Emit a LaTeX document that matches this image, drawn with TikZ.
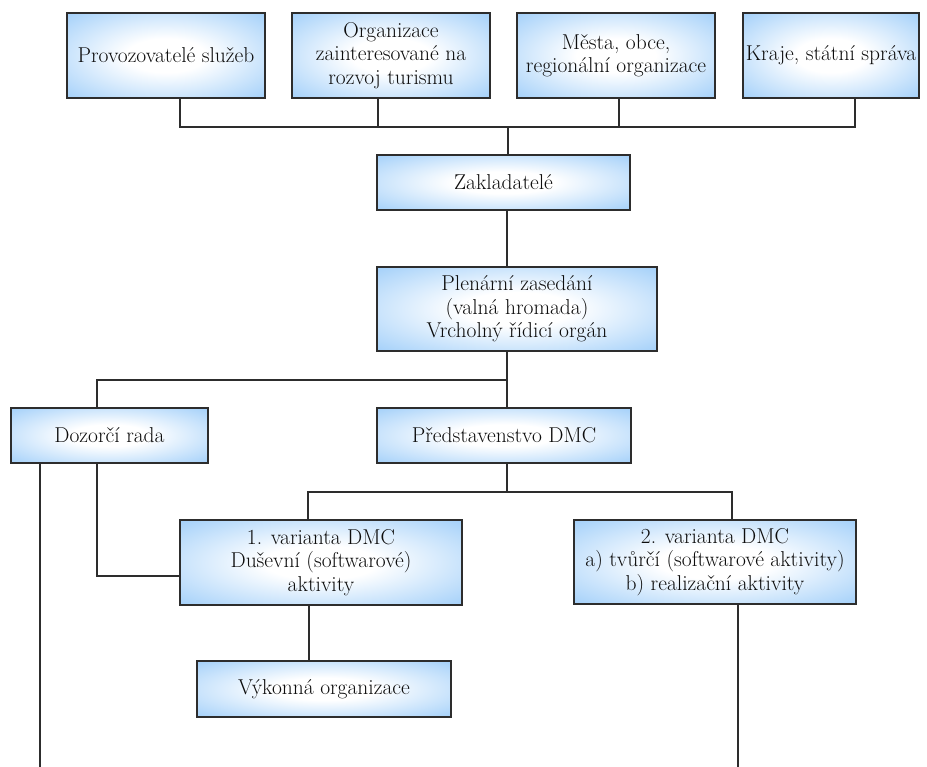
\documentclass[tikz,border=0pt]{standalone}
\usepackage{fontspec}
\definecolor{boxblue}{RGB}{140,196,248}
\definecolor{linegray}{RGB}{45,45,45}
\pgfdeclareradialshading{boxglow}{\pgfpoint{0bp}{0bp}}{%
  color(0bp)=(white); color(10bp)=(white); color(42bp)=(boxblue); color(72bp)=(boxblue)}
\begin{document}
\begin{tikzpicture}[x=1pt,y=-1pt,
  box/.style={rectangle, draw=linegray, line width=1.4pt, inner sep=0pt, outer sep=0pt,
    shading=boxglow, align=center, font=\fontsize{21.5}{23.5}\selectfont, text=black!95},
  link/.style={draw=linegray, line width=1.4pt}]
\useasboundingbox (0,0) rectangle (927,767);

% founders' groups
\node[box, minimum width=198, minimum height=85] (prov)  at (166,55.5) {Provozovatelé služeb};
\node[box, minimum width=198, minimum height=85] (org)   at (391,55.5) {Organizace\\zainteresované na\\rozvoj turismu};
\node[box, minimum width=198, minimum height=85] (mesta) at (616,55.5) {Města, obce,\\regionální organizace};
\node[box, minimum width=176, minimum height=85] (kraje) at (831,55.5) {Kraje, státní správa};

% governing bodies
\node[box, minimum width=253, minimum height=55] (zakl)  at (503.5,182.5) {Zakladatelé};
\node[box, minimum width=280, minimum height=84] (plen)  at (517,309) {Plenární zasedání\\(valná hromada)\\Vrcholný řídicí orgán};
\node[box, minimum width=197, minimum height=55] (dozor) at (109.5,435.5) {Dozorčí rada};
\node[box, minimum width=254, minimum height=55] (pred)  at (504,435.5) {Představenstvo DMC};

% variants and executive
\node[box, minimum width=282, minimum height=85] (var1) at (321,562.5) {1. varianta DMC\\Duševní (softwarové)\\aktivity};
\node[box, minimum width=282, minimum height=84] (var2) at (715,562) {2. varianta DMC\\a) tvůrčí (softwarové aktivity)\\b) realizační aktivity};
\node[box, minimum width=254, minimum height=56] (vyk)  at (324,689) {Výkonná organizace};

% junction points
\coordinate (t0) at (508,127);
\coordinate (t1) at (180,127);
\coordinate (t2) at (378,127);
\coordinate (t3) at (619,127);
\coordinate (t4) at (855,127);
\coordinate (m0) at (507,380);
\coordinate (m1) at (97,380);
\coordinate (v0) at (507,492);
\coordinate (v1) at (308,492);
\coordinate (v2) at (732,492);
\coordinate (d1) at (97,576);
\coordinate (d2) at (40,767);
\coordinate (e1) at (309,640);
\coordinate (e2) at (738,767);

% top bus
\draw[link] (t1 |- prov.south) -- (t1) -- (t4) -- (t4 |- kraje.south);
\draw[link] (t2 |- org.south) -- (t2);
\draw[link] (t3 |- mesta.south) -- (t3);
\draw[link] (t0) -- (t0 |- zakl.north);
\draw[link] (m0 |- zakl.south) -- (m0 |- plen.north);

% assembly to boards
\draw[link] (m0 |- plen.south) -- (m0) -- (m0 |- pred.north);
\draw[link] (m0) -- (m1) -- (m1 |- dozor.north);

% board to variants
\draw[link] (v0 |- pred.south) -- (v0);
\draw[link] (v1 |- var1.north) -- (v1) -- (v2) -- (v2 |- var2.north);

% supervisory links
\draw[link] (d1 |- dozor.south) -- (d1) -- (d1 -| var1.west);
\draw[link] (d2 |- dozor.south) -- (d2);

% lower links
\draw[link] (e1 |- var1.south) -- (e1 |- vyk.north);
\draw[link] (e2 |- var2.south) -- (e2);
\end{tikzpicture}
\end{document}
